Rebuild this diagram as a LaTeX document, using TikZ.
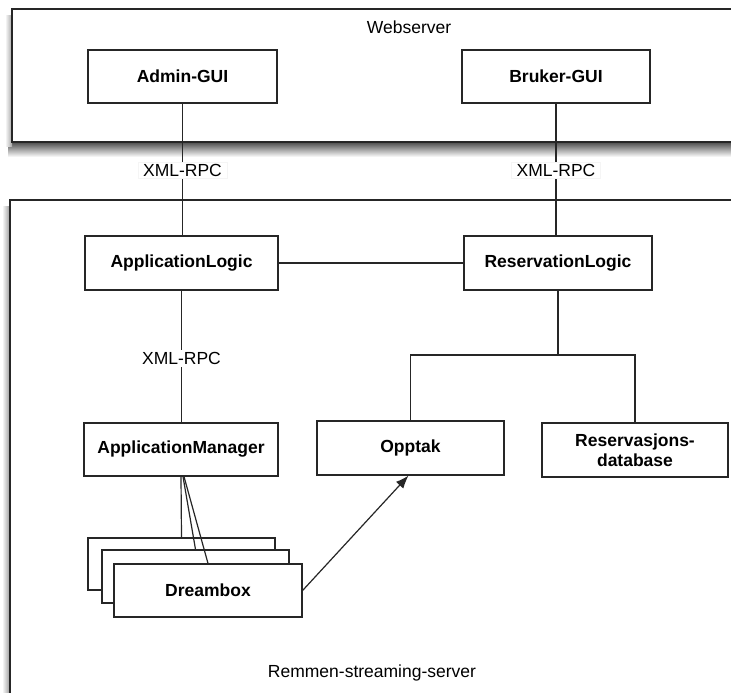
\documentclass[tikz,border=0pt]{standalone}
\usepackage{fontspec}
\setmainfont{Liberation Sans}
\usetikzlibrary{arrows.meta}

\begin{document}
\begin{tikzpicture}[x=1pt,y=-1pt,
  txt/.style={font=\fontsize{17.5}{20}\selectfont},
  frame/.style={draw=black!85, line width=1.3pt, fill=white},
  comp/.style={draw=black!85, line width=1.2pt, fill=white, inner sep=0pt,
    minimum height=53pt, align=center,
    font=\fontsize{17.5}{20}\selectfont\bfseries},
  wire/.style={draw=black!85, line width=1.2pt},
  proto/.style={txt, fill=white, inner sep=2pt},
]
\useasboundingbox (0,0) rectangle (731,693);
\clip (0,0) rectangle (731,693);
\fill[white] (0,0) rectangle (731,693);

% soft shadows behind the two containers
\shade[top color=black!70, bottom color=white] (8,142) rectangle (731,157);
\shade[left color=white, right color=black!35] (5,16) rectangle (12,146);
\shade[left color=white, right color=black!40] (2,206) rectangle (10,693);

% containers
\path[frame] (12,9) rectangle (770,142);
\path[frame] (10,200) rectangle (770,720);
\node[txt] (webtitle) at (409,27) {Webserver};
\node[txt] (srvtitle) at (372,673) {Remmen-streaming-server};

% components
\node[comp, minimum width=189pt] (admin)  at (182.5,76.5) {Admin-GUI};
\node[comp, minimum width=188pt] (bruker) at (556,76.5)   {Bruker-GUI};
\node[comp, minimum width=193pt, minimum height=54pt] (applogic) at (181.5,263) {ApplicationLogic};
\node[comp, minimum width=188pt, minimum height=54pt] (reslogic) at (558,263)   {ReservationLogic};
\node[comp, minimum width=194pt] (appmgr) at (181,449.5) {ApplicationManager};
\node[comp, minimum width=187pt, minimum height=54pt] (opptak) at (410.5,448) {Opptak};
\node[comp, minimum width=186pt, minimum height=54pt] (resdb)  at (635,450)   {Reservasjons-\\database};

% stacked Dreambox instances
\node[comp, minimum width=187pt, minimum height=52pt] (dbb) at (181.5,564) {};
\node[comp, minimum width=187pt, minimum height=53pt] (dbm) at (195.5,576.5) {};
\node[comp, minimum width=188pt, minimum height=53pt] (dbf) at (208,590.5) {Dreambox};

% connectors
\draw[wire] (admin.south) -- (admin.south |- applogic.north)
  node[proto, pos=0.5, yshift=-1pt, draw=black!4, line width=0.5pt, inner xsep=5pt] (x1) {XML-RPC};
\draw[wire] (bruker.south) -- (bruker.south |- reslogic.north)
  node[proto, pos=0.5, yshift=-1pt, draw=black!4, line width=0.5pt, inner xsep=5pt] (x2) {XML-RPC};
\draw[wire] (applogic.east) -- (reslogic.west);
\draw[wire] (applogic.south) -- (applogic.south |- appmgr.north)
  node[proto, pos=0.5, yshift=-2pt] (x3) {XML-RPC};

\coordinate (split) at (reslogic.south |- 0,355);
\draw[wire] (reslogic.south) -- (split);
\draw[wire] (opptak.north) |- (split) -| (resdb.north);

\draw[wire] (appmgr.south) -- (dbb.north);
\draw[wire] ([xshift=2pt]appmgr.south) -- (dbm.north);
\draw[wire] ([xshift=3pt]appmgr.south) -- (dbf.north);

\draw[wire, -{Latex[length=13pt,width=10pt]}] (dbf.east) -- ([xshift=-2pt]opptak.south);
\end{tikzpicture}
\end{document}
